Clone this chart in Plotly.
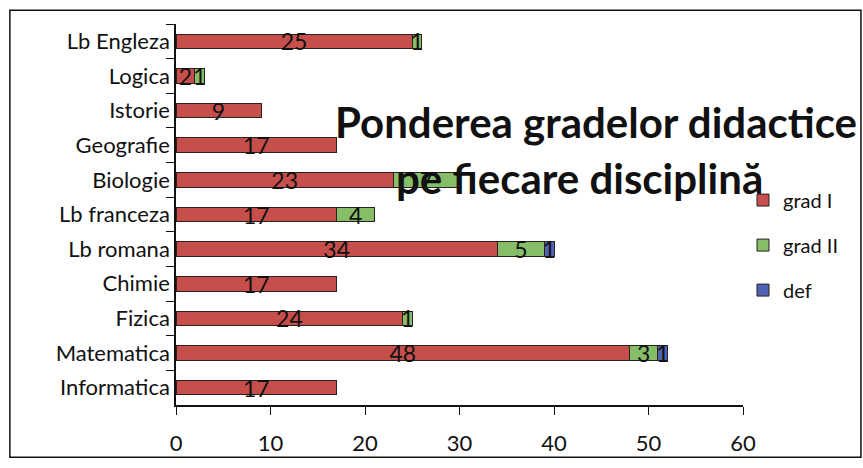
import plotly.graph_objects as go

categories = ["Lb Engleza", "Logica", "Istorie", "Geografie", "Biologie", "Lb franceza",
              "Lb romana", "Chimie", "Fizica", "Matematica", "Informatica"]
grad_I = [25, 2, 9, 17, 23, 17, 34, 17, 24, 48, 17]
grad_II = [1, 1, 0, 0, 7, 4, 5, 0, 1, 3, 0]
deff = [0, 0, 0, 0, 0, 0, 1, 0, 0, 1, 0]
x_ticks = [0, 10, 20, 30, 40, 50, 60]

series = [("grad I", grad_I, "#c64f4c"), ("grad II", grad_II, "#86bd68"), ("def", deff, "#4f62b4")]

fig = go.Figure()
for i, (name, vals, col) in enumerate(series):
    fig.add_trace(go.Bar(
        y=categories, x=vals, name=name, orientation="h",
        marker=dict(color=col, line=dict(color="#2a2020", width=1)),
        text=[str(v) if v else "" for v in vals],
        textposition="inside", insidetextanchor="middle", constraintext="none",
        textangle=0,
        textfont=dict(family="Lato", size=23, color="#111111"),
        legendgroup=name,
    ))

fig.update_layout(
    barmode="stack", bargap=0.58,
    width=863, height=468,
    margin=dict(l=176, r=120, t=24, b=56),
    paper_bgcolor="white", plot_bgcolor="white",
    font=dict(family="Lato", color="#111111"),
    xaxis=dict(range=[0, 60], tickvals=x_ticks, showgrid=False, zeroline=False,
               showline=True, linecolor="#111", linewidth=1.5,
               ticks="outside", ticklen=8, tickcolor="#111", ticklabelstandoff=10,
               tickfont=dict(size=22)),
    yaxis=dict(autorange="reversed", showgrid=False, showline=True, linecolor="#111",
               linewidth=1.5, ticks="outside", ticklen=8, tickcolor="#111",
               tickson="boundaries", tickfont=dict(size=22), automargin=False),
    legend=dict(x=1.0, y=0.589, xanchor="left", yanchor="top",
                traceorder="grouped", tracegroupgap=16,
                font=dict(size=20), bgcolor="rgba(0,0,0,0)"),
    showlegend=True,
    annotations=[
        dict(text="<b>Ponderea gradelor didactice</b>", xref="paper", yref="paper",
             x=0.741, y=0.742, xanchor="center", yanchor="middle", showarrow=False,
             font=dict(size=42, color="#111")),
        dict(text="<b>pe fiecare disciplină</b>", xref="paper", yref="paper",
             x=0.7125, y=0.595, xanchor="center", yanchor="middle", showarrow=False,
             font=dict(size=42, color="#111")),
    ],
    shapes=[dict(type="rect", xref="paper", yref="paper", x0=-0.293, x1=1.208,
                 y0=-0.137, y1=1.036, line=dict(color="#111", width=1.5))],
)

fig.write_html("out.html", config={"displayModeBar": False})
with open("out.html", "r", encoding="utf-8") as f:
    html = f.read()
html = html.replace("<body>", '<body style="margin:0;padding:0">', 1)
with open("out.html", "w", encoding="utf-8") as f:
    f.write(html)
